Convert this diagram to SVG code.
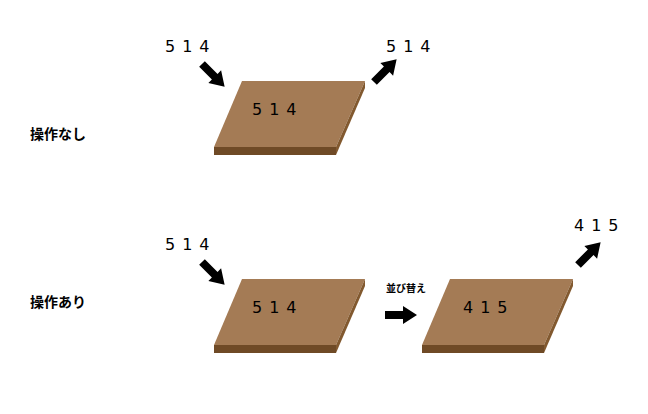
<svg xmlns="http://www.w3.org/2000/svg" xmlns:xlink="http://www.w3.org/1999/xlink" width="648" height="414" viewBox="0 0 648 414">
<style>
.top{fill:#a47b55}.front{fill:#6f4a26}.side{fill:#82592f}
.num{font-family:"DejaVu Sans",sans-serif;font-size:16px;fill:#000;letter-spacing:7px}
.lab{font-family:"Noto Sans CJK JP",sans-serif;font-weight:bold;font-size:14px;fill:#000}
.sm{font-family:"Noto Sans CJK JP",sans-serif;font-weight:bold;font-size:10px;fill:#000}
</style>
<defs>
<path id="arr" d="M0,-4 H19 V-9 H32 L19 9 V4 H0 Z" transform="scale(1)"/>
<path id="ar" d="M0,-4 H18 V-9 L32,0 L18,9 V4 H0 Z"/>
<g id="board">
<polygon class="top" points="28,0 151,0 122,66 0,66"/>
<polygon class="side" points="151,0 151,7 122,74 122,66"/>
<rect class="front" x="0" y="66" width="122" height="8"/>
</g>
</defs>
<g id="connectors">
<use xlink:href="#ar" transform="translate(202,64) rotate(45)"/>
<use xlink:href="#ar" transform="translate(374,82) rotate(-45)"/>
<use xlink:href="#ar" transform="translate(202,262) rotate(45)"/>
<use xlink:href="#ar" transform="translate(385,315)"/>
<use xlink:href="#ar" transform="translate(578,265) rotate(-45)"/>
</g>
<g id="board1"><use xlink:href="#board" transform="translate(214,81)"/><text class="num" x="252" y="115">514</text></g>
<g id="board2"><use xlink:href="#board" transform="translate(214,279)"/><text class="num" x="252" y="313">514</text></g>
<g id="board3"><use xlink:href="#board" transform="translate(422,279)"/><text class="num" x="463" y="313">415</text></g>
<g id="labels">
<text class="num" x="165" y="52">514</text>
<text class="num" x="386" y="52">514</text>
<text class="num" x="165" y="250">514</text>
<text class="num" x="574" y="231">415</text>
<text class="lab" x="30" y="139">操作なし</text>
<text class="lab" x="30" y="307">操作あり</text>
<text class="sm" x="386" y="292">並び替え</text>
</g>
</svg>
